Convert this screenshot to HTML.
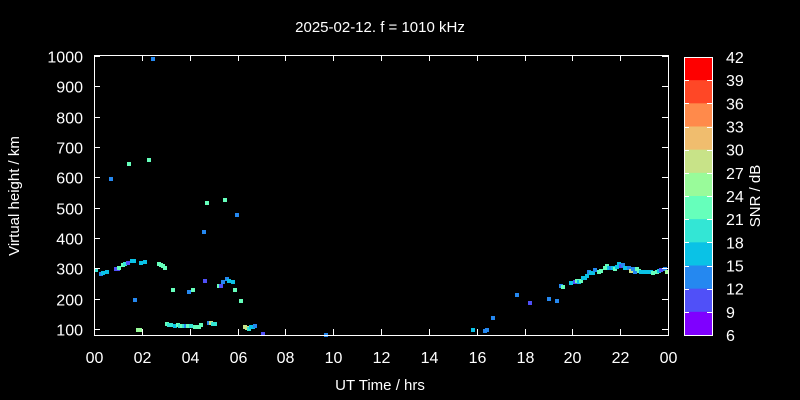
<!DOCTYPE html>
<html><head><meta charset="utf-8"><style>
html,body{margin:0;padding:0;background:#000;overflow:hidden;width:800px;height:400px;}
svg{display:block;}
svg text{font-family:"Liberation Sans",sans-serif;fill:#fff;}
</style></head><body>
<svg width="800" height="400" viewBox="0 0 800 400" xmlns="http://www.w3.org/2000/svg">
<rect width="800" height="400" fill="#000"/>
<text x="380" y="32" font-size="15" text-anchor="middle">2025-02-12. f = 1010 kHz</text>
<text x="380" y="390" font-size="15" text-anchor="middle">UT Time / hrs</text>
<text transform="translate(19,196) rotate(-90)" font-size="15" text-anchor="middle">Virtual height / km</text>
<text transform="translate(760,196) rotate(-90)" font-size="15" text-anchor="middle">SNR / dB</text>
<g id="pts"></g>
<g stroke="#fff" stroke-width="1" fill="none">
<rect x="94.5" y="55.5" width="574" height="280"/>
</g>
<g id="ticks" stroke="#fff" stroke-width="1"></g>
<g id="lbl" font-size="16"></g>
<g id="cb"></g>
</svg>
<script>
var ns="http://www.w3.org/2000/svg";
function el(p,t,a,txt){var e=document.createElementNS(ns,t);for(var k in a)e.setAttribute(k,a[k]);if(txt!==undefined)e.textContent=txt;document.getElementById(p).appendChild(e);}
for(var v=100;v<=1000;v+=100){var y=56+(1000-v)*0.3033;y=Math.round(y)+0.5;
el('ticks','line',{x1:94,y1:y,x2:100,y2:y});el('ticks','line',{x1:662,y1:y,x2:668,y2:y});
el('lbl','text',{x:83,y:y+6,'text-anchor':'end'},String(v));}
for(var h=0;h<=24;h+=2){var x=Math.round(94+h*23.917)+0.5;
el('ticks','line',{x1:x,y1:335,x2:x,y2:329});el('ticks','line',{x1:x,y1:55,x2:x,y2:61});
el('lbl','text',{x:x,y:363,'text-anchor':'middle'},(h%24<10?'0':'')+(h%24));}
var cols=['#fe0000','#ff4726','#ff8a4b','#f0bd6e','#c8e388','#99fb9a','#66ffbb','#33e6d5','#0ac2e6','#2588f0','#5050f8','#7f00ff'];
var cbTop=57,bh=(335-57)/12;
for(var i=0;i<12;i++){el('cb','rect',{x:684,y:cbTop+i*bh,width:28,height:bh+0.5,fill:cols[i]});}
el('cb','rect',{x:684.5,y:57.5,width:28,height:278,fill:'none',stroke:'#fff'});
for(var i=1;i<12;i++){var y=Math.round(cbTop+i*bh)+0.5;el('cb','line',{x1:684,y1:y,x2:689,y2:y,stroke:'#fff'});el('cb','line',{x1:707,y1:y,x2:712,y2:y,stroke:'#fff'});}
for(var i=0;i<=12;i++){el('cb','text',{x:726,y:cbTop+i*bh+6,'font-size':'16'},String(42-3*i));}
var G='#66ffbb',C='#0ac2e6',B='#2588f0',P='#5050f8',T='#33e6d5',L='#99fb9a',Y='#c8e388';
var pts=[[96,270,T],[101,274,B],[103,273,C],[107,272,C],[116,269,P],[118,269,P],[119,268,G],[123,265,G],[125,264,T],[128,263,P],[132,261,C],[134,261,C],[135,300,B],[138,330,L],[140,330,L],[141,263,C],[145,262,C],[159,264,G],[161,265,G],[163,266,G],[165,268,G],[173,290,G],
[167,324,G],[169,325,T],[171,325,T],[175,326,C],[178,325,G],[180,326,T],[182,326,G],[184,326,T],[186,326,B],[188,326,G],[191,326,T],[195,327,G],[197,327,G],[199,327,G],[201,325,G],
[189,292,B],[193,290,G],[205,281,P],[209,323,B],[211,323,Y],[213,324,T],[215,324,T],[219,286,G],[221,286,P],[223,282,B],[227,279,B],[229,281,C],[233,282,C],[235,290,G],[241,301,G],
[245,327,Y],[247,328,Y],[249,329,T],[251,327,C],[253,327,C],[255,326,B],[263,334,P],
[153,59,B],[111,179,B],[129,164,G],[149,160,G],[207,203,G],[225,200,G],[237,215,B],[204,232,B],[326,335,B],
[473,330,C],[485,331,B],[487,330,B],[493,318,B],[517,295,B],[530,303,P],
[549,299,B],[557,301,B],[561,286,B],[563,287,G],[571,283,C],[575,282,P],[577,281,G],[579,282,C],[581,281,G],[583,278,C],[585,278,C],[587,276,C],[589,272,B],[591,273,C],[593,273,C],[595,270,B],[599,272,G],[601,271,G],[605,268,G],[607,266,G],[609,268,C],[611,268,B],[613,268,C],[615,269,G],[617,267,C],[619,264,C],[621,266,P],[623,265,B],[625,268,C],[627,268,C],[629,268,B],[631,271,Y],[633,269,B],[635,272,B],[637,269,G],[639,271,G],[641,272,C],[643,272,C],[645,272,C],[647,272,C],[649,272,C],[651,272,C],[653,273,G],[657,272,G],[659,271,C],[661,270,P],[665,269,B],[667,272,L]];
pts.forEach(function(p){el('pts','rect',{x:p[0]-2,y:p[1]-2,width:4,height:4,fill:p[2]});});
</script>
</body></html>
